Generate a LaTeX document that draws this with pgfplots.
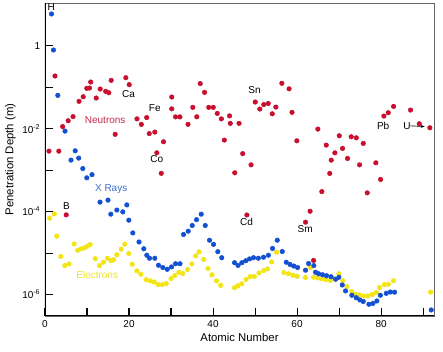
\documentclass[border=0pt]{standalone}
\usepackage{fontspec}
\setmainfont{Liberation Sans}
\usepackage{pgfplots}
\pgfplotsset{compat=1.18}
\usetikzlibrary{arrows.meta}
\definecolor{nred}{HTML}{C8102E}
\definecolor{xblue}{HTML}{1450D2}
\definecolor{eyellow}{HTML}{F2E415}
\definecolor{ntext}{HTML}{C42A4E}
\definecolor{xtext}{HTML}{3D6FD0}
\definecolor{etext}{HTML}{EFE22A}
\begin{document}
\begin{tikzpicture}
\begin{axis}[
  scale only axis, width=291.75pt, height=234.75pt,
  ymode=log, xmin=0, xmax=92.6, ymin=3.04e-7, ymax=10.7,
  xtick={0,10,20,30,40,50,60,70,80,90},
  xticklabels={0,,20,,40,,60,,80,},
  ytick={1e-6,1e-5,1e-4,1e-3,1e-2,1e-1,1},
  yticklabels={10\textsuperscript{-6},,10\textsuperscript{-4},,10\textsuperscript{-2},,1},
  yminorticks=false, xminorticks=false,
  tick align=inside, tick pos=left, major tick length=6pt,
  tick style={black, line width=0.8pt},
  tick label style={font=\fontsize{7.5}{9}\selectfont},
  label style={font=\fontsize{8.5}{10}\selectfont},
  xlabel={Atomic Number}, ylabel={Penetration Depth (m)},
  xlabel style={yshift=3pt}, ylabel style={yshift=-2pt},
  axis line style={black!60, line width=0.5pt},
  /pgf/number format/assume math mode=true,
  every axis plot/.append style={only marks, mark=*, mark size=1.7pt},
]
% Electrons
\addplot[color=eyellow, mark options={fill=eyellow, draw=eyellow}] table {
x y
1.12 6.94e-5
2.21 8.77e-5
2.81 2.55e-5
3.76 8.26e-6
4.71 5.00e-6
5.71 5.47e-6
6.95 1.66e-5
7.79 1.17e-5
8.52 1.26e-5
9.33 1.33e-5
10.05 1.46e-5
10.76 1.61e-5
11.95 7.31e-6
12.98 5.00e-6
13.93 6.01e-6
14.88 7.51e-6
15.71 6.53e-6
16.31 6.92e-6
17.1 9.12e-6
18.14 1.24e-5
19.0 1.64e-5
19.95 9.75e-6
20.76 5.38e-6
21.86 3.71e-6
22.81 3.09e-6
24.1 2.28e-6
25.05 2.13e-6
26.0 2.01e-6
26.98 1.74e-6
27.9 1.74e-6
28.86 1.84e-6
30.0 2.43e-6
30.9 2.87e-6
31.86 3.45e-6
32.81 3.21e-6
33.93 4.01e-6
34.95 5.47e-6
35.88 8.53e-6
36.67 1.07e-5
37.79 7.03e-6
38.81 4.24e-6
39.76 3.00e-6
40.83 2.13e-6
41.83 1.67e-6
45.12 1.46e-6
45.95 1.63e-6
46.86 1.82e-6
47.86 2.31e-6
48.86 2.72e-6
49.83 2.72e-6
50.95 3.32e-6
52.07 3.79e-6
52.98 4.15e-6
53.98 6.11e-6
55.12 1.05e-5
56.86 3.40e-6
57.98 3.17e-6
59.05 2.92e-6
60.05 2.76e-6
61.98 2.58e-6
63.17 4.48e-6
63.93 2.61e-6
64.95 2.51e-6
65.9 2.40e-6
66.86 2.31e-6
67.9 2.19e-6
69.0 2.40e-6
69.95 3.17e-6
70.9 2.15e-6
71.86 1.56e-6
73.0 1.18e-6
73.93 1.02e-6
74.88 9.77e-7
75.83 9.25e-7
76.86 9.25e-7
77.9 1.00e-6
78.86 1.12e-6
79.64 1.48e-6
80.76 1.74e-6
81.71 1.77e-6
82.98 2.15e-6
91.79 1.14e-6
};
% X rays
\addplot[color=xblue, mark options={fill=xblue, draw=xblue}] table {
x y
1.55 5.82
2.02 0.787
3.05 0.0635
4.76 8.73e-3
6.19 1.74e-3
7.19 2.92e-3
8.02 1.95e-3
9.0 1.09e-3
9.95 6.52e-4
11.19 7.78e-4
13.1 1.69e-4
15.0 1.89e-4
15.67 8.67e-5
17.1 1.09e-4
18.52 9.84e-5
19.48 1.45e-4
19.95 6.21e-5
20.9 3.06e-5
22.38 1.85e-5
23.52 1.27e-5
24.24 8.87e-6
24.88 7.51e-6
26.14 7.51e-6
27.02 5.09e-6
28.05 4.48e-6
29.1 4.07e-6
30.12 4.63e-6
31.07 5.53e-6
32.14 5.53e-6
32.98 2.81e-5
34.1 3.37e-5
35.05 4.62e-5
36.07 6.38e-5
37.19 8.67e-5
38.14 4.62e-5
39.17 2.04e-5
40.12 1.62e-5
41.14 1.08e-5
42.07 7.73e-6
45.12 5.85e-6
45.95 5.04e-6
46.86 5.85e-6
47.79 6.53e-6
48.69 7.22e-6
49.64 7.73e-6
50.79 7.51e-6
52.02 7.94e-6
53.17 8.87e-6
54.17 1.29e-5
55.29 2.04e-5
56.48 1.09e-5
57.43 6.01e-6
58.33 5.32e-6
59.21 4.87e-6
60.12 4.48e-6
62.02 3.86e-6
62.74 5.60e-6
64.0 5.00e-6
64.4 3.45e-6
65.12 3.17e-6
66.07 3.00e-6
67.02 2.84e-6
68.1 2.69e-6
69.17 2.34e-6
69.95 2.61e-6
70.76 1.70e-6
71.55 1.22e-6
73.05 9.61e-7
74.1 8.36e-7
74.95 7.40e-7
75.76 6.81e-7
77.1 5.83e-7
78.05 6.09e-7
79.0 7.00e-7
79.83 9.61e-7
81.24 1.07e-6
82.21 1.15e-6
83.21 1.14e-6
91.95 4.25e-7
};
% Neutrons
\addplot[color=nred, mark options={fill=nred, draw=nred}] table {
x y
0.95 2.87e-3
2.38 0.186
3.29 2.87e-3
4.21 0.0112
5.05 8.34e-5
5.52 0.0155
6.67 0.0195
8.1 0.0455
9.1 0.0587
9.95 0.0937
10.6 0.0953
10.88 0.133
12.19 0.0547
13.14 0.0902
14.45 0.0793
15.19 0.0734
15.76 0.146
16.71 7.31e-3
19.24 0.169
20.05 0.115
21.9 0.0172
22.93 0.0127
24.21 0.0185
24.81 7.60e-3
26.14 8.26e-3
26.62 2.61e-3
27.67 8.37e-4
28.21 4.82e-3
30.17 0.0578
30.17 0.0300
31.07 0.0192
32.1 0.0192
34.05 0.0127
35.19 0.0326
36.14 0.0193
36.95 0.122
37.98 0.0750
38.98 0.0326
40.05 0.0326
41.0 0.0233
41.98 0.0172
42.69 5.30e-3
43.93 0.0203
44.1 0.0134
45.17 8.61e-4
46.19 0.0134
47.07 2.50e-3
48.05 8.28e-5
49.05 1.34e-3
50.05 0.0438
51.14 0.0297
52.07 0.0381
53.14 0.0403
54.1 0.0228
54.95 0.0331
56.38 0.124
58.1 0.0912
58.81 0.0247
59.95 5.09e-3
62.02 5.56e-5
63.1 1.02e-4
63.93 6.65e-6
64.95 9.75e-3
65.9 3.03e-4
66.95 4.01e-3
67.79 8.32e-4
68.14 1.74e-3
69.0 2.61e-3
70.05 6.73e-3
70.83 3.34e-3
72.02 1.91e-3
72.9 6.37e-3
74.1 6.01e-3
74.88 1.34e-3
75.76 4.41e-3
76.71 2.83e-4
78.76 1.50e-3
79.88 5.96e-4
80.67 0.0201
81.71 0.0242
82.98 0.0344
87.02 0.0281
89.1 0.0131
91.62 0.0105
};
\draw[black, line width=1pt] (rel axis cs:0,1) -- (rel axis cs:0,0) -- (rel axis cs:1,0);
\begin{scope}[font=\fontsize{7.5}{9}\selectfont]
\node[black] at (axis cs:1.48,8.7) {H};
\node[black] at (axis cs:19.88,0.0694) {Ca};
\node[ntext] at (axis cs:14.33,0.0161) {Neutrons};
\node[black] at (axis cs:26.14,0.0319) {Fe};
\node[black] at (axis cs:26.62,1.84e-3) {Co};
\node[black] at (axis cs:49.88,0.0853) {Sn};
\node[xtext] at (axis cs:15.76,3.42e-4) {X Rays};
\node[black] at (axis cs:5.12,1.35e-4) {B};
\node[etext] at (axis cs:12.43,3.03e-6) {Electrons};
\node[black] at (axis cs:47.98,5.55e-5) {Cd};
\node[black] at (axis cs:61.95,3.76e-5) {Sm};
\node[black] at (axis cs:80.5,0.0117) {Pb};
\node[black] at (axis cs:86.14,0.0117) {U};
\end{scope}
\draw[-{Stealth[length=3pt]}, black, line width=0.5pt] (axis cs:86.95,0.0117) -- (axis cs:90.4,0.0112);
\end{axis}
\path ([xshift=6.75pt,yshift=2.25pt]current axis.north east);
\path ([xshift=-33.75pt,yshift=-27pt]current axis.south west);
\end{tikzpicture}
\end{document}
